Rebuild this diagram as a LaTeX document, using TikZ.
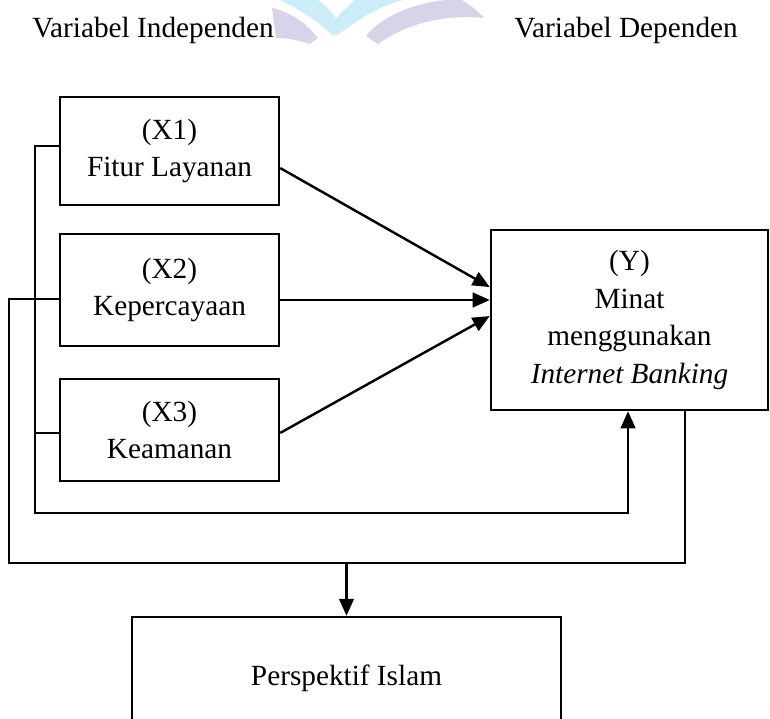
\documentclass[tikz,border=0pt]{standalone}
\usepackage{fontspec}
\setmainfont{Liberation Serif}
\usetikzlibrary{arrows.meta}
\definecolor{wmpurple}{RGB}{216,211,233}
\definecolor{wmcyan}{RGB}{204,237,248}
\tikzset{
  txt/.style={font=\fontsize{12}{15.5}\selectfont, align=center},
  varbox/.style={txt, draw, line width=1pt, inner sep=0pt},
  link/.style={line width=1pt},
  arr/.style={link, -{Triangle[length=7pt,width=6pt]}}
}

\begin{document}
\begin{tikzpicture}[x=0.41pt, y=-0.41pt]
\useasboundingbox (0,0) rectangle (770,718);
\clip (0,0) rectangle (770,718);
% faint logo behind the headings
\fill[wmpurple] (272,8) .. controls (290,12) and (305,22) .. (318,38) -- (310,44)
  .. controls (298,40) and (288,38) .. (276,38) -- cycle;
\fill[wmpurple] (366,36) .. controls (380,18) and (410,4) .. (445,0) -- (462,0)
  .. controls (470,5) and (478,11) .. (484,18)
  .. controls (440,14) and (405,25) .. (378,44) -- cycle;
\fill[wmcyan] (280,0) .. controls (300,10) and (320,22) .. (332,35) -- (338,35)
  .. controls (360,18) and (380,6) .. (403,0) -- (355,0)
  .. controls (348,6) and (342,12) .. (336,18)
  .. controls (330,10) and (324,4) .. (318,0) -- cycle;
% headings
\node (indep) at (153,30) [txt] {Variabel Independen};
\node (dep) at (626,30) [txt] {Variabel Dependen};
% variables
\node (x1) at (169.5,151) [varbox, minimum width=89.8pt, minimum height=44.3pt] {(X1)\\Fitur Layanan};
\node (x2) at (169.5,290) [varbox, minimum width=89.8pt, minimum height=45.9pt] {(X2)\\Kepercayaan};
\node (x3) at (169.5,430) [varbox, minimum width=89.8pt, minimum height=41.8pt] {(X3)\\Keamanan};
\node (y) at (629.5,320) [varbox, minimum width=113.6pt, minimum height=73.8pt] {(Y)\\Minat\\menggunakan\\\textit{Internet Banking}};
\node (pi) at (346.5,678.5) [varbox, minimum width=175.9pt, minimum height=50.4pt] {Perspektif Islam};
\coordinate (loopin) at (35,513);
\coordinate (loopout) at (9,563);
% partial effects
\draw[arr] ([yshift=-7pt]x1.east) -- ([yshift=13.5pt]y.west);
\draw[arr] ([yshift=-4.1pt]x2.east) -- ([yshift=-4.1pt]x2.east -| y.west);
\draw[arr] ([yshift=-1.2pt]x3.east) -- ([yshift=1.6pt]y.west);
% simultaneous effect
\draw[arr] ([yshift=2pt]x1.west) -| (loopin) -| ([xshift=-0.6pt]y.south);
\draw[link] ([yshift=-1.2pt]x3.west) -- ++(-25,0);
\draw[link] ([yshift=-3.7pt]x2.west) -| (loopout) -| ([xshift=22.8pt]y.south);
\draw[arr] (loopout -| pi.north) -- (pi.north);
\end{tikzpicture}
\end{document}
